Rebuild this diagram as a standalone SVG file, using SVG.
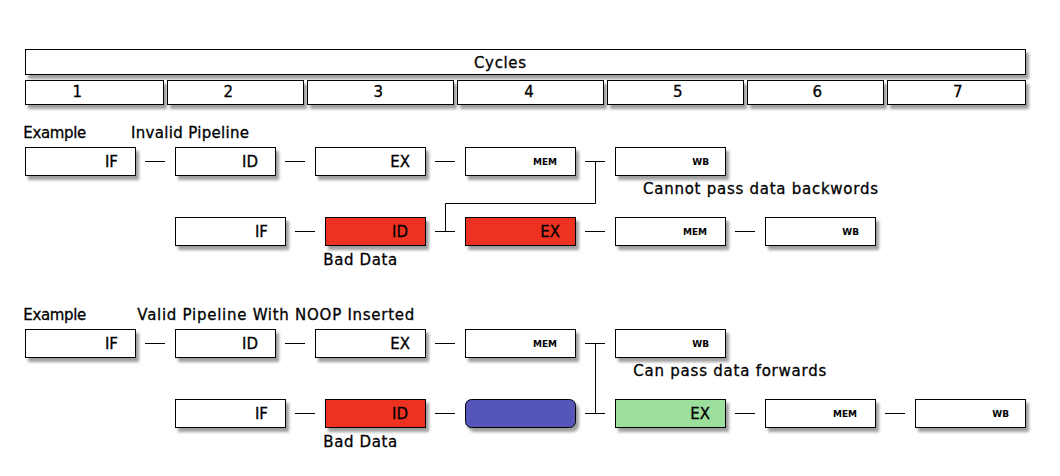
<svg xmlns="http://www.w3.org/2000/svg" width="1060" height="476" viewBox="0 0 1060 476">
<defs>
<filter id="sh" x="-10%" y="-30%" width="130%" height="180%">
<feDropShadow dx="3" dy="4" stdDeviation="1.6" flood-color="#000" flood-opacity="0.38"/>
</filter>
<style>
.b{fill:#fff;stroke:#000;stroke-width:1;filter:url(#sh)}
.red{fill:#ee3124}
.blue{fill:#5654b9}
.green{fill:#9cde9c}
.n{font-family:"DejaVu Sans",sans-serif;font-size:15px;fill:#000;stroke:#000;stroke-width:0.3;text-anchor:end}
.s{font-family:"DejaVu Sans",sans-serif;font-size:9px;font-weight:bold;fill:#000;text-anchor:end}
.c{font-family:"DejaVu Sans",sans-serif;font-size:15px;fill:#000;stroke:#000;stroke-width:0.3;text-anchor:middle}
.l{font-family:"DejaVu Sans",sans-serif;font-size:15px;fill:#000;stroke:#000;stroke-width:0.3}
.k{stroke:#000;stroke-width:1;fill:none}
</style>
</defs>
<rect width="1060" height="476" fill="#fff"/>

<g id="header">
<rect class="b" x="25.5" y="49.5" width="1000" height="25"/>
<text class="c" x="500" y="67.5" textLength="52">Cycles</text>
</g>
<g id="cycle1"><rect class="b" x="25.5" y="80.5" width="138" height="24"/><text class="c" x="77.3" y="96.5">1</text></g>
<g id="cycle2"><rect class="b" x="167.5" y="80.5" width="136" height="24"/><text class="c" x="228.3" y="96.5">2</text></g>
<g id="cycle3"><rect class="b" x="307.5" y="80.5" width="146" height="24"/><text class="c" x="378.3" y="96.5">3</text></g>
<g id="cycle4"><rect class="b" x="457.5" y="80.5" width="146" height="24"/><text class="c" x="529" y="96.5">4</text></g>
<g id="cycle5"><rect class="b" x="607.5" y="80.5" width="136" height="24"/><text class="c" x="677.7" y="96.5">5</text></g>
<g id="cycle6"><rect class="b" x="747.5" y="80.5" width="136" height="24"/><text class="c" x="817.3" y="96.5">6</text></g>
<g id="cycle7"><rect class="b" x="887.5" y="80.5" width="138" height="24"/><text class="c" x="957.7" y="96.5">7</text></g>

<g id="labels">
<text class="l" x="23.3" y="138" textLength="63">Example</text>
<text class="l" x="131" y="138" textLength="118">Invalid Pipeline</text>
<text class="l" x="643" y="194" textLength="235">Cannot pass data backwords</text>
<text class="l" x="323.3" y="264.5" textLength="74">Bad Data</text>
<text class="l" x="23.3" y="320" textLength="63">Example</text>
<text class="l" x="137.3" y="320" textLength="277">Valid Pipeline With NOOP Inserted</text>
<text class="l" x="633.3" y="376" textLength="193">Can pass data forwards</text>
<text class="l" x="323.3" y="446.5" textLength="74">Bad Data</text>
</g>

<g id="connectors">
<path class="k" d="M145 161.5H165M285 161.5H305M435 161.5H455M585 161.5H605"/>
<path class="k" d="M295 231.5H315M435 231.5H455M585 231.5H605M735 231.5H755"/>
<path class="k" d="M595.5 161.5V203.5H445.5V231.5"/>
<path class="k" d="M145 343.5H165M285 343.5H305M435 343.5H455M585 343.5H605"/>
<path class="k" d="M295 413.5H315M435 413.5H455M585 413.5H605M735 413.5H755M885 413.5H905"/>
<path class="k" d="M595.5 343.5V413.5"/>
</g>

<g id="r1_if"><rect class="b" x="25.5" y="147.5" width="110" height="28"/><text class="n" x="118" y="167">IF</text></g>
<g id="r1_id"><rect class="b" x="175.5" y="147.5" width="100" height="28"/><text class="n" x="258" y="167">ID</text></g>
<g id="r1_ex"><rect class="b" x="315.5" y="147.5" width="110" height="28"/><text class="n" x="410" y="167">EX</text></g>
<g id="r1_mem"><rect class="b" x="465.5" y="147.5" width="110" height="28"/><text class="s" x="557" y="164.8">MEM</text></g>
<g id="r1_wb"><rect class="b" x="615.5" y="147.5" width="110" height="28"/><text class="s" x="709" y="164.8">WB</text></g>

<g id="r2_if"><rect class="b" x="175.5" y="217.5" width="110" height="28"/><text class="n" x="268" y="237">IF</text></g>
<g id="r2_id"><rect class="b red" x="325.5" y="217.5" width="100" height="28"/><text class="n" x="408" y="237">ID</text></g>
<g id="r2_ex"><rect class="b red" x="465.5" y="217.5" width="110" height="28"/><text class="n" x="560" y="237">EX</text></g>
<g id="r2_mem"><rect class="b" x="615.5" y="217.5" width="110" height="28"/><text class="s" x="707" y="234.8">MEM</text></g>
<g id="r2_wb"><rect class="b" x="765.5" y="217.5" width="110" height="28"/><text class="s" x="859" y="234.8">WB</text></g>

<g id="r3_if"><rect class="b" x="25.5" y="329.5" width="110" height="28"/><text class="n" x="118" y="349">IF</text></g>
<g id="r3_id"><rect class="b" x="175.5" y="329.5" width="100" height="28"/><text class="n" x="258" y="349">ID</text></g>
<g id="r3_ex"><rect class="b" x="315.5" y="329.5" width="110" height="28"/><text class="n" x="410" y="349">EX</text></g>
<g id="r3_mem"><rect class="b" x="465.5" y="329.5" width="110" height="28"/><text class="s" x="557" y="346.8">MEM</text></g>
<g id="r3_wb"><rect class="b" x="615.5" y="329.5" width="110" height="28"/><text class="s" x="709" y="346.8">WB</text></g>

<g id="r4_if"><rect class="b" x="175.5" y="399.5" width="110" height="28"/><text class="n" x="268" y="419">IF</text></g>
<g id="r4_id"><rect class="b red" x="325.5" y="399.5" width="100" height="28"/><text class="n" x="408" y="419">ID</text></g>
<g id="r4_noop"><rect class="b blue" x="465.5" y="399.5" width="110" height="28" rx="6"/></g>
<g id="r4_ex"><rect class="b green" x="615.5" y="399.5" width="110" height="28"/><text class="n" x="710" y="419">EX</text></g>
<g id="r4_mem"><rect class="b" x="765.5" y="399.5" width="110" height="28"/><text class="s" x="857" y="416.8">MEM</text></g>
<g id="r4_wb"><rect class="b" x="915.5" y="399.5" width="110" height="28"/><text class="s" x="1009" y="416.8">WB</text></g>
</svg>
